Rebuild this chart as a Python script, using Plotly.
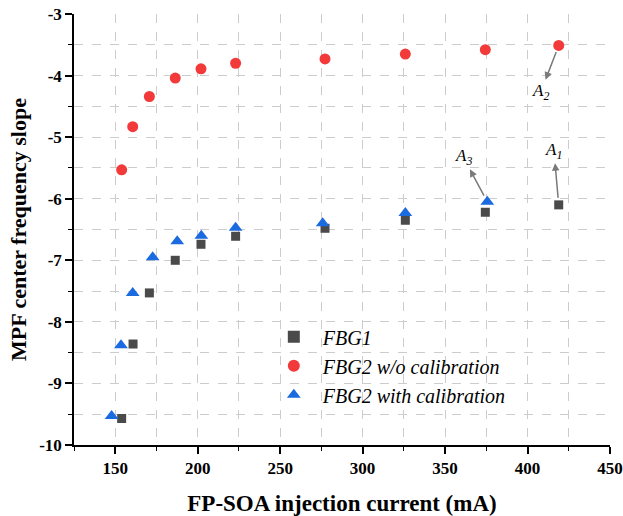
import plotly.graph_objects as go

fbg1_x = [153.9, 160.8, 170.7, 186.4, 202.0, 223.0, 277.2, 325.9, 374.4, 418.9]
fbg1_y = [-9.57, -8.36, -7.53, -7.00, -6.74, -6.61, -6.48, -6.35, -6.22, -6.10]

fbg2_raw_x = [153.9, 160.6, 170.7, 186.4, 202.0, 223.0, 277.2, 325.9, 374.4, 418.9]
fbg2_raw_y = [-5.53, -4.83, -4.34, -4.04, -3.89, -3.80, -3.73, -3.65, -3.58, -3.51]

fbg2_cal_x = [147.8, 153.5, 160.6, 172.7, 187.6, 202.2, 223.0, 275.8, 325.9, 375.6]
fbg2_cal_y = [-9.53, -8.38, -7.53, -6.95, -6.69, -6.60, -6.47, -6.40, -6.23, -6.05]

x_ticks = [150, 200, 250, 300, 350, 400, 450]
x_grid = [125, 150, 175, 200, 225, 250, 275, 300, 325, 350, 375, 400, 425]
y_ticks = [-3, -4, -5, -6, -7, -8, -9, -10]
y_ticktext = ["-3", "-4", "-5", "-6", "-7", "-8", "-9", "-10"]
y_grid = [-9.5, -9, -8.5, -8, -7.5, -7, -6.5, -6, -5.5, -5, -4.5, -4, -3.5]

SERIF = "Liberation Serif"
GRID = "#cccccc"

fig = go.Figure()
fig.add_trace(go.Scatter(x=fbg1_x, y=fbg1_y, mode="markers", name="<i>FBG1</i>",
                         marker=dict(symbol="square", size=9, color="#4a4a4a")))
fig.add_trace(go.Scatter(x=fbg2_raw_x, y=fbg2_raw_y, mode="markers", name="<i>FBG2 w/o calibration</i>",
                         marker=dict(symbol="circle", size=11, color="#f23a3a")))
fig.add_trace(go.Scatter(x=fbg2_cal_x, y=fbg2_cal_y, mode="markers", name="<i>FBG2 with calibration</i>",
                         marker=dict(symbol="triangle-up", size=12, color="#1a6ae0")))

fig.update_xaxes(range=[125, 450], tickvals=x_ticks, ticks="outside", ticklen=7, tickwidth=1.5,
                 tickcolor="black", showline=True, linecolor="black", linewidth=1.5,
                 zeroline=False, showgrid=False, automargin=False,
                 minor=dict(tickvals=x_grid, ticks="outside", ticklen=4, tickwidth=1.2,
                            tickcolor="black", showgrid=True, gridcolor=GRID, griddash="dash",
                            gridwidth=1),
                 tickfont=dict(family=SERIF, size=17, color="black", weight="bold"),
                 title=dict(text="<b>FP-SOA injection current (mA)</b>",
                            font=dict(family=SERIF, size=23, color="black"), standoff=22))
fig.update_yaxes(range=[-10, -3], tickvals=y_ticks, ticktext=y_ticktext, ticks="outside", ticklen=7,
                 tickwidth=1.5, tickcolor="black", showline=True, linecolor="black", linewidth=1.5,
                 zeroline=False, showgrid=False, automargin=False,
                 minor=dict(tickvals=y_grid, ticks="outside", ticklen=4, tickwidth=1.2,
                            tickcolor="black", showgrid=True, gridcolor=GRID, griddash="dash",
                            gridwidth=1),
                 tickfont=dict(family=SERIF, size=17, color="black", weight="bold"),
                 title=dict(text="<b>MPF center frequency slope</b>",
                            font=dict(family=SERIF, size=22, color="black"), standoff=6))

# labelled arrows: tail at the data point, head at the label
lab = dict(showarrow=True, arrowside="start", arrowhead=2, startarrowhead=2, startarrowsize=1,
           arrowwidth=1.5, arrowcolor="#7a7a7a", standoff=7,
           xref="x", yref="y", axref="x", ayref="y",
           font=dict(family=SERIF, size=17, color="black"))
fig.add_annotation(x=fbg2_raw_x[-1], y=fbg2_raw_y[-1], ax=408.0, ay=-4.27,
                   text="<i>A<sub>2</sub></i>", **lab)
fig.add_annotation(x=fbg2_cal_x[-1], y=fbg2_cal_y[-1], ax=361.0, ay=-5.32,
                   text="<i>A<sub>3</sub></i>", **lab)
fig.add_annotation(x=fbg1_x[-1], y=fbg1_y[-1], ax=416.0, ay=-5.22,
                   text="<i>A<sub>1</sub></i>", **lab)

fig.update_layout(
    width=623, height=516,
    margin=dict(l=74, r=13, t=14, b=71, autoexpand=False),
    plot_bgcolor="white", paper_bgcolor="white",
    showlegend=True,
    legend=dict(x=0.356, y=0.184, xanchor="left", yanchor="middle", bgcolor="rgba(0,0,0,0)",
                font=dict(family=SERIF, size=20, color="black"), itemsizing="constant",
                itemwidth=48, tracegroupgap=0),
)

fig.write_html("out.html")
